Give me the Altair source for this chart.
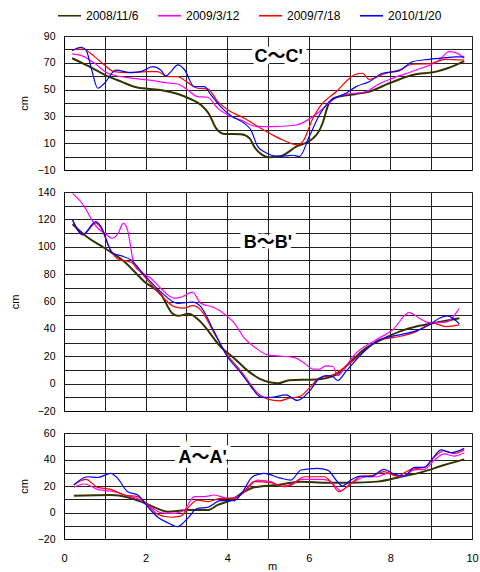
import altair as alt
import pandas as pd

SERIES = ["2008/11/6", "2009/3/12", "2009/7/18", "2010/1/20"]
COLORS = ["#333300", "#ff00ff", "#ff0000", "#0000ff"]

# ---- C~C' (top panel) ----
C1_x = [0.2, 0.6, 1.0, 1.4, 1.8, 2.36, 2.79, 3.1, 3.36, 3.55, 3.73, 3.93, 4.34, 4.55, 4.67, 4.85, 5.03, 5.28, 5.69, 6.1, 6.25, 6.35, 6.47, 6.64, 7.16, 7.47, 7.97, 8.54, 9.12, 9.4, 9.81]
C1_y = [73.4, 67.5, 61, 56, 51.5, 49.7, 46.7, 43, 38.5, 32, 21, 16.9, 16.7, 13.6, 7, 1.5, -0.5, 0, 7.4, 13.6, 19, 26, 38, 44, 46.7, 48.4, 54.7, 60.9, 63.4, 65.9, 71.3]
C2_x = [0.2, 0.46, 0.75, 1.07, 1.56, 2.05, 2.62, 2.79, 3.03, 3.28, 3.52, 3.77, 4.02, 4.34, 4.67, 5.07, 5.69, 6.0, 6.26, 6.58, 6.83, 7.4, 7.72, 8.05, 8.63, 9.2, 9.44, 9.6, 9.81]
C2_y = [76.6, 75, 69.6, 62.2, 58.9, 57.2, 54.7, 54.2, 49.7, 44.7, 44.3, 36, 31, 27.3, 22.8, 22.4, 23.6, 27.8, 33.5, 42.2, 46, 48.4, 54.2, 58.4, 64.6, 72.1, 78.3, 77.6, 73.4]
C3_x = [0.2, 0.46, 0.75, 0.99, 1.23, 1.56, 2.05, 2.29, 2.54, 2.79, 3.03, 3.28, 3.52, 3.77, 4.02, 4.42, 4.83, 5.07, 5.36, 5.72, 5.85, 6.1, 6.26, 6.67, 7.16, 7.32, 7.47, 7.89, 8.21, 8.54, 8.95, 9.36, 9.81]
C3_y = [79.6, 80.3, 74.6, 68.4, 63.4, 62.7, 63.4, 63.4, 59.7, 59.7, 55.2, 51, 50.6, 41, 34.8, 28.6, 21, 16.9, 12.4, 8.7, 11.1, 28.6, 36.8, 48.4, 61.6, 62.2, 57.7, 62.2, 64.6, 68.9, 69.3, 72.6, 72.1]
C4_x = [0.2, 0.42, 0.54, 0.66, 0.83, 0.99, 1.27, 1.64, 1.88, 2.17, 2.37, 2.5, 2.62, 2.79, 2.95, 3.19, 3.44, 3.6, 3.84, 4.1, 4.42, 4.58, 4.75, 4.95, 5.2, 5.44, 5.6, 5.77, 6.01, 6.26, 6.5, 6.91, 7.16, 7.48, 7.81, 8.21, 8.54, 8.95, 9.36, 9.6, 9.81]
C4_y = [79, 81.5, 79.6, 67, 51, 54.7, 64.6, 62.7, 63.4, 67.1, 64.6, 60.1, 63.4, 68.4, 65, 52.2, 52.2, 46, 37.3, 30.3, 24.8, 19.9, 7.4, 2.9, 0.4, 0.6, 1, 0, 14.9, 31, 41, 47.2, 52.2, 55.9, 62.2, 64, 70.8, 72.6, 73.8, 74.4, 74.4]

# ---- B~B' (middle panel) ----
B1_x = [0.21, 0.5, 1.0, 1.48, 1.97, 2.38, 2.65, 2.79, 3.06, 3.3, 3.87, 4.17, 4.5, 4.8, 5.07, 5.25, 5.52, 6.17, 6.67, 7.07, 7.4, 7.81, 8.22, 8.63, 9.04, 9.69]
B1_y = [116.4, 108.6, 98.9, 89.1, 74.5, 65, 51.5, 49.5, 51, 46.5, 26, 18.6, 9.5, 3.5, 0.8, 0.3, 2.5, 3, 6.4, 17.4, 25.9, 32.5, 38, 41.7, 44.1, 47.8]
B2_x = [0.21, 0.5, 0.66, 0.83, 1.0, 1.19, 1.31, 1.46, 1.56, 1.72, 1.89, 2.13, 2.37, 2.7, 2.9, 3.15, 3.35, 3.68, 4.01, 4.18, 4.42, 4.66, 4.99, 5.65, 5.89, 6.1, 6.26, 6.42, 6.59, 6.71, 6.85, 7.08, 7.65, 8.06, 8.46, 8.7, 8.95, 9.36, 9.69]
B2_y = [139, 129.3, 120.8, 113.5, 109.8, 106.2, 109, 117.2, 112, 86.7, 81.4, 77, 69.7, 62.4, 63.5, 66.8, 58.7, 55.6, 49, 44, 33.2, 27, 21, 19, 15, 10.6, 10.5, 13, 12.5, 6, 10, 19.8, 32, 39.3, 51.9, 48, 44.6, 45, 55.1]
B3_x = [0.21, 0.46, 0.78, 0.9, 1.14, 1.32, 1.64, 1.97, 2.37, 2.7, 2.94, 3.15, 3.35, 3.68, 4.0, 4.34, 4.58, 4.67, 5.0, 5.28, 5.52, 5.77, 6.01, 6.26, 6.59, 6.91, 7.4, 7.73, 8.22, 8.63, 9.04, 9.36, 9.69]
B3_y = [119.6, 108.6, 117.2, 114, 97.7, 91.1, 88.7, 78.2, 64.8, 56.3, 55.1, 57, 53.9, 36.9, 21, 8.9, -0.9, -4.5, -11.3, -12.6, -10.6, -9.5, -3.3, 4, 6.4, 12.5, 24.7, 32, 34.4, 38, 44.1, 41.7, 42.9]
B4_x = [0.21, 0.46, 0.78, 0.9, 1.19, 1.39, 1.64, 1.97, 2.37, 2.78, 3.15, 3.35, 3.68, 4.0, 4.34, 4.58, 4.83, 5.07, 5.44, 5.72, 6.01, 6.26, 6.42, 6.59, 6.71, 6.91, 7.4, 7.73, 8.22, 8.63, 8.95, 9.2, 9.4, 9.69]
B4_y = [119.6, 109, 118.3, 115, 95.3, 93.5, 90.4, 79.4, 67.2, 58.7, 59.5, 56.3, 38, 19.8, 7.7, -2.1, -9.8, -10, -8.2, -12.3, -5.8, 4, 5.9, 5, 2.3, 8.9, 24.7, 32, 35.6, 38.5, 42.9, 47.8, 49.5, 43.6]

# ---- A~A' (bottom panel) ----
A1_x = [0.24, 1.15, 1.56, 1.89, 2.22, 2.54, 3.03, 3.52, 3.77, 4.1, 4.42, 4.66, 5.23, 5.81, 6.46, 7.03, 7.68, 8.26, 8.75, 9.32, 9.81]
A1_y = [12.7, 13.2, 11.5, 8.2, 3.9, 0.6, 1.8, 1.8, 5.7, 9.4, 15.7, 19, 20.8, 23.3, 22.5, 22.5, 23.3, 27, 30.3, 35.8, 40.1]
A2_x = [0.24, 0.5, 0.82, 1.23, 1.56, 1.89, 2.14, 2.38, 2.7, 2.95, 3.19, 3.44, 3.68, 4.01, 4.26, 4.5, 4.74, 5.07, 5.31, 5.56, 5.81, 6.3, 6.46, 6.7, 6.78, 7.03, 7.43, 7.68, 7.92, 8.26, 8.59, 8.83, 9.08, 9.32, 9.56, 9.81]
A2_y = [19, 21.5, 17.5, 15.7, 12.5, 9.4, 3.9, -0.2, -0.7, 1.8, 12, 12, 13.2, 10.7, 12, 18.2, 24.5, 23.3, 20, 20.5, 25, 25, 24.5, 18.2, 16.5, 22, 27, 27, 29.6, 27, 32.1, 32.5, 39.6, 44.2, 42.6, 45.1]
A3_x = [0.24, 0.54, 0.82, 1.15, 1.48, 1.81, 2.05, 2.3, 2.62, 2.86, 3.03, 3.27, 3.52, 3.84, 4.17, 4.38, 4.66, 5.07, 5.39, 5.64, 5.89, 6.38, 6.54, 6.74, 6.94, 7.27, 7.6, 7.84, 8.17, 8.5, 8.83, 9.08, 9.32, 9.56, 9.81]
A3_y = [20.8, 25, 19, 17.5, 13.2, 12, 5.7, -1.4, -3.6, -2.8, 3.2, 9.4, 8.2, 10.7, 10.7, 14.5, 23.3, 22.5, 19.5, 22.5, 27, 27, 23.3, 15.7, 19.5, 27, 28.3, 30.8, 27.5, 32.6, 34.1, 42.1, 46.6, 44.6, 47.2]
A4_x = [0.24, 0.58, 0.82, 1.15, 1.31, 1.56, 1.81, 2.05, 2.3, 2.54, 2.78, 3.03, 3.27, 3.52, 3.84, 4.17, 4.38, 4.62, 4.9, 5.31, 5.56, 5.81, 6.21, 6.46, 6.7, 6.82, 7.03, 7.27, 7.52, 7.84, 8.09, 8.34, 8.59, 8.83, 9.08, 9.24, 9.48, 9.81]
A4_y = [20.8, 27, 26.4, 29.6, 25.9, 15.7, 13.2, 4.4, -3.6, -7.7, -10.7, -4.4, 3.2, 3.9, 8.9, 8.9, 15.7, 27, 29.6, 25.9, 24.5, 32.1, 33.3, 32, 23.3, 20, 24.5, 27.5, 27, 32.6, 29, 27.5, 34.1, 34, 42.6, 47.2, 45.1, 48.4]

LABELS = ["C～C'", "B～B'", "A～A'"]
LABEL_X = [5.26, 5.0, 3.4]
LABEL_Y = [74, 103, 41]

FONT = "Liberation Sans"


def frame(pairs):
    rows = []
    for s, (xs, ys) in zip(SERIES, pairs):
        for a, b in zip(xs, ys):
            rows.append({"series": s, "x": a, "y": b})
    return pd.DataFrame(rows)


def panel(df, lo, hi, label_mod, h, title_x, bottom, idx):
    legend = alt.Legend(
        title=None, orient="none", legendX=-7, legendY=-33, direction="horizontal",
        symbolType="stroke", symbolSize=529, symbolStrokeWidth=1.6,
        labelFont=FONT, labelFontSize=12, labelColor="#000000", labelOffset=4,
        columnPadding=15, padding=0,
    )
    xaxis_kw = dict(
        values=list(range(11)), tickCount=20, format="d", grid=True, ticks=False, tickSize=0,
        labelFlush=False, labelOverlap=False, domainColor="#000000",
    )
    if bottom:
        xaxis_kw.update(
            labels=True, labelExpr="datum.value % 2 == 0 ? datum.label : ''",
            labelFont=FONT, labelFontSize=11, labelColor="#000000", labelPadding=13,
            title="m", titleFont=FONT, titleFontSize=11, titleFontWeight="normal",
            titleColor="#000000", titleX=208, titleY=21, titleBaseline="top",
        )
    else:
        xaxis_kw.update(labels=False, title=None)
    yaxis = alt.Axis(
        values=list(range(lo, hi + 1, 10)), tickCount=40, format="d", grid=True,
        ticks=False, tickSize=0,
        labelExpr="(datum.value - %d) %% 20 == 0 ? datum.label : ''" % label_mod,
        labelFlush=False, labelOverlap=False, labelFont=FONT, labelFontSize=10.5,
        labelColor="#000000", labelPadding=9, domainColor="#000000",
        title="cm", titleFont=FONT, titleFontSize=11, titleFontWeight="normal",
        titleColor="#000000", titleX=title_x, titleY=h / 2,
    )
    lines = alt.Chart(df).mark_line(interpolate="monotone").encode(
        x=alt.X("x:Q", scale=alt.Scale(domain=[0, 10], nice=False), axis=alt.Axis(**xaxis_kw)),
        y=alt.Y("y:Q", scale=alt.Scale(domain=[lo, hi], nice=False, zero=False), axis=yaxis),
        color=alt.Color("series:N", scale=alt.Scale(domain=SERIES, range=COLORS), legend=legend),
        strokeWidth=alt.condition(alt.datum.series == SERIES[0], alt.value(2), alt.value(1.2)),
    )
    ann_df = pd.DataFrame({"label": [LABELS[idx]], "x": [LABEL_X[idx]], "y": [LABEL_Y[idx]]})
    base = alt.Chart(ann_df).encode(x="x:Q", y="y:Q", text="label:N")
    halo = base.mark_text(font=FONT + ", Noto Sans CJK JP", fontSize=18, fontWeight="bold",
                          stroke="white", strokeWidth=9, fill="white", strokeJoin="miter")
    txt = base.mark_text(font=FONT + ", Noto Sans CJK JP", fontSize=18, fontWeight="bold",
                         color="#000000")
    return alt.layer(lines, halo, txt).properties(width=408, height=h)


top = panel(frame([(C1_x, C1_y), (C2_x, C2_y), (C3_x, C3_y), (C4_x, C4_y)]), -10, 90, -10, 134, -35, False, 0)
mid = panel(frame([(B1_x, B1_y), (B2_x, B2_y), (B3_x, B3_y), (B4_x, B4_y)]), -20, 140, 0, 219, -44, False, 1)
bot = panel(frame([(A1_x, A1_y), (A2_x, A2_y), (A3_x, A3_y), (A4_x, A4_y)]), -20, 60, 0, 106, -35, True, 2)

chart = alt.vconcat(top, mid, bot, spacing=22, bounds="flush").properties(
    padding={"left": 8, "top": 3, "right": 0, "bottom": 0},
    background="white",
).configure_view(stroke="#999999", strokeWidth=1).configure_axis(
    gridColor="#222222", gridWidth=1, gridOpacity=1, domainWidth=1
)

chart.save("out.html", embed_options={"renderer": "svg", "actions": False})
